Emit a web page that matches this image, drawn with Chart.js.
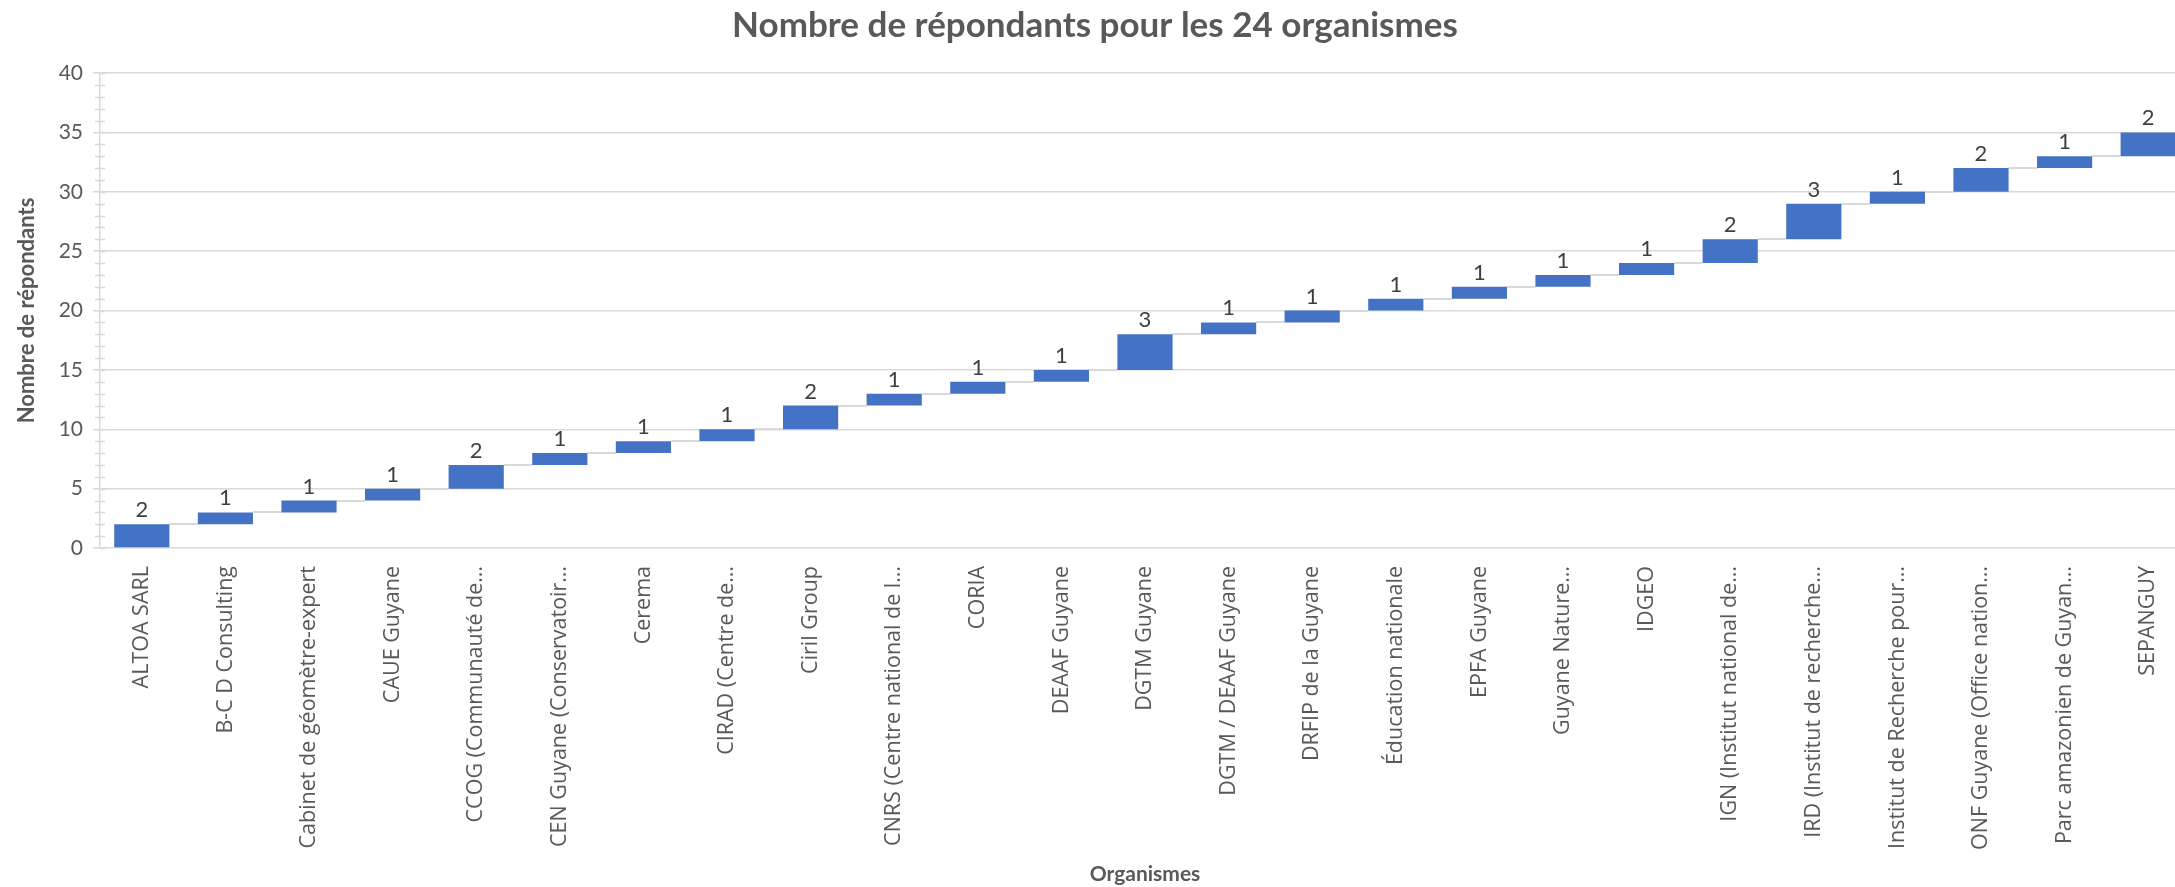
<!DOCTYPE html>
<html><head><meta charset="utf-8">
<script src="https://cdn.jsdelivr.net/npm/chart.js@4"></script>
<style>
html,body{margin:0;padding:0;background:#fff;overflow:hidden;}
#wrap{width:2200px;height:887px;position:relative;}
</style></head><body>
<div id="wrap"><canvas id="c"></canvas></div>
<script>
const titre = "Nombre de répondants pour les 24 organismes";
const titreAxeX = "Organismes";
const titreAxeY = "Nombre de répondants";
const organismes = [
  "ALTOA SARL",
  "B-C D Consulting",
  "Cabinet de géomètre-expert",
  "CAUE Guyane",
  "CCOG (Communauté de…",
  "CEN Guyane (Conservatoir…",
  "Cerema",
  "CIRAD (Centre de…",
  "Ciril Group",
  "CNRS (Centre national de l…",
  "CORIA",
  "DEAAF Guyane",
  "DGTM Guyane",
  "DGTM / DEAAF Guyane",
  "DRFIP de la Guyane",
  "Éducation nationale",
  "EPFA Guyane",
  "Guyane Nature…",
  "IDGEO",
  "IGN (Institut national de…",
  "IRD (Institut de recherche…",
  "Institut de Recherche pour…",
  "ONF Guyane (Office nation…",
  "Parc amazonien de Guyan…",
  "SEPANGUY"
];
const repondants = [2,1,1,1,2,1,1,1,2,1,1,1,3,1,1,1,1,1,1,2,3,1,2,1,2];
const yMin = 0, yMax = 40, yPas = 5;

// table for floating waterfall bars
const barres = [];
let cumul = 0;
repondants.forEach(v => { barres.push([cumul, cumul + v]); cumul += v; });

const GRIS = '#d9d9d9';
const TEXTE = '#595959';
const POLICE_LABELS = "'Open Sans', 'Noto Sans', sans-serif";

const connecteurs = {
  id: 'connecteurs',
  beforeDatasetsDraw(chart) {
    const meta = chart.getDatasetMeta(0);
    const y = chart.scales.y;
    const ctx = chart.ctx;
    ctx.save();
    ctx.strokeStyle = GRIS;
    ctx.lineWidth = 2;
    for (let i = 0; i < meta.data.length - 1; i++) {
      const a = meta.data[i], b = meta.data[i + 1];
      const py = Math.round(y.getPixelForValue(barres[i][1]));
      ctx.beginPath();
      ctx.moveTo(a.x + a.width / 2, py);
      ctx.lineTo(b.x - b.width / 2, py);
      ctx.stroke();
    }
    ctx.restore();
  }
};

const etiquettes = {
  id: 'etiquettes',
  afterDatasetsDraw(chart) {
    const meta = chart.getDatasetMeta(0);
    const ctx = chart.ctx;
    ctx.save();
    ctx.font = "22px Lato";
    ctx.fillStyle = '#404040';
    ctx.textAlign = 'center';
    ctx.textBaseline = 'alphabetic';
    meta.data.forEach((el, i) => {
      const top = Math.min(el.y, el.base);
      ctx.fillText(String(repondants[i]), el.x, top - 7);
    });
    ctx.restore();
  }
};

const mineures = {
  id: 'mineures',
  afterDraw(chart) {
    const y = chart.scales.y;
    const x0 = chart.chartArea.left;
    const ctx = chart.ctx;
    ctx.save();
    ctx.strokeStyle = GRIS;
    ctx.lineWidth = 1.5;
    for (let v = yMin; v <= yMax; v++) {
      const py = Math.round(y.getPixelForValue(v)) + 0.5;
      ctx.beginPath();
      if (v % yPas === 0) { ctx.moveTo(x0, py); ctx.lineTo(x0 + 5, py); }
      else { ctx.moveTo(x0 - 5, py); ctx.lineTo(x0 + 5, py); }
      ctx.stroke();
    }
    ctx.restore();
  }
};

function dessiner() {
  new Chart(document.getElementById('c'), {
    type: 'bar',
    data: {
      labels: organismes,
      datasets: [{
        data: barres,
        backgroundColor: '#4472C4',
        borderWidth: 0,
        barPercentage: 0.66,
        categoryPercentage: 1.0
      }]
    },
    plugins: [connecteurs, etiquettes, mineures],
    options: {
      responsive: true,
      maintainAspectRatio: false,
      animation: false,
      layout: { padding: { top: 0, right: 10, bottom: 0, left: 0 } },
      plugins: {
        legend: { display: false },
        tooltip: { enabled: false },
        title: {
          display: true,
          text: titre,
          color: TEXTE,
          font: { family: 'Lato', size: 35, weight: 'bold' },
          padding: { top: 5, bottom: 26 }
        }
      },
      scales: {
        x: {
          afterFit(scale) { scale.height = 339; },
          grid: { display: false, drawTicks: false },
          border: { display: false },
          ticks: {
            color: TEXTE,
            font: { family: POLICE_LABELS, size: 21.5 },
            maxRotation: 90, minRotation: 90,
            autoSkip: false,
            padding: 18
          },
          title: {
            display: true, text: titreAxeX, color: TEXTE,
            font: { family: 'Lato', size: 21, weight: 'bold' },
            padding: { top: 0, bottom: 0 }
          }
        },
        y: {
          afterFit(scale) { scale.width = 100; },
          min: yMin, max: yMax,
          ticks: {
            stepSize: yPas,
            color: TEXTE,
            font: { family: 'Lato', size: 21 },
            padding: 10
          },
          grid: { color: GRIS, lineWidth: 1.5, tickLength: 7, tickColor: GRIS },
          border: { display: true, color: GRIS, width: 1.5 },
          title: {
            display: true, text: titreAxeY, color: TEXTE,
            font: { family: 'Lato', size: 22, weight: 'bold' },
            padding: { top: 14, bottom: 18 }
          }
        }
      }
    }
  });
}

Promise.all([
  document.fonts.load("22px 'Open Sans'"),
  document.fonts.load("21px Lato"),
  document.fonts.load("bold 21px Lato")
]).catch(() => {}).then(dessiner);
</script>
</body></html>
